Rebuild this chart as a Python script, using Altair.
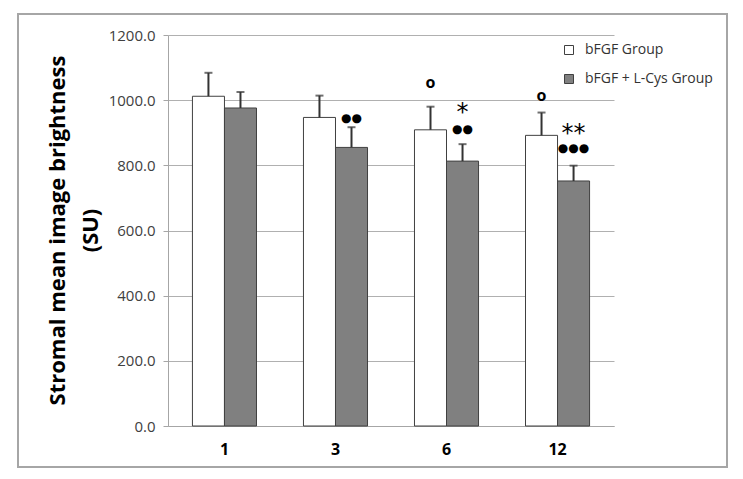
import altair as alt
import pandas as pd

weeks = ["1", "3", "6", "12"]
groups = ["bFGF Group", "bFGF + L-Cys Group"]
bfgf_mean = [1012, 947, 909, 892]
bfgf_upper = [1084, 1014, 980, 962]
lcys_mean = [976, 855, 813, 752]
lcys_upper = [1025, 917, 865, 799]

# significance marks
ring_week = ["6", "12"]
ring_y = [1053, 1013]
star_week = ["6", "12"]
star_y = [979, 915]
star_text = ["*", "**"]
dot_week = ["3", "6", "12"]
dot_y = [945, 911, 853]
dot_text = ["●●", "●●", "●●●"]

rows = []
for i, w in enumerate(weeks):
    rows.append({"week": w, "group": groups[0], "value": bfgf_mean[i], "upper": bfgf_upper[i]})
    rows.append({"week": w, "group": groups[1], "value": lcys_mean[i], "upper": lcys_upper[i]})
df = pd.DataFrame(rows)

rings = pd.DataFrame({"week": ring_week, "group": groups[0], "y": ring_y, "t": "o"})
stars = pd.DataFrame({"week": star_week, "group": groups[1], "y": star_y, "t": star_text})
dots = pd.DataFrame({"week": dot_week, "group": groups[1], "y": dot_y, "t": dot_text})

x = alt.X("week:N", sort=weeks, scale=alt.Scale(paddingInner=0.423, paddingOuter=0.22),
          axis=alt.Axis(title=None, labelFontSize=16, labelFontWeight="bold", labelColor="black",
                        labelAngle=0, domainColor="#a6a6a6", ticks=False, labelPadding=15,
                        labelFont="Open Sans", grid=False))
xo = alt.XOffset("group:N", sort=groups, scale=alt.Scale(paddingInner=0, paddingOuter=0))
yax = alt.Axis(values=[0, 200, 400, 600, 800, 1000, 1200], format=".1f",
               title=["Stromal mean image brightness", "(SU)"],
               titleAngle=270, titleX=-104, titleY=195, titleAlign="center",
               titleBaseline="alphabetic", titleFontSize=22, titleFontWeight="bold",
               titleColor="black", titleLineHeight=33, titleFont="Open Sans",
               labelFont="Open Sans", labelFontSize=15, labelColor="#404040",
               labelPadding=8, tickSize=5, tickColor="#a6a6a6", domainColor="#a6a6a6",
               gridColor="#b0b0b0", grid=True)
yscale = alt.Scale(domain=[0, 1200])

bars = alt.Chart(df).mark_bar(stroke="#404040", strokeWidth=1).encode(
    x=x, xOffset=xo,
    y=alt.Y("value:Q", scale=yscale, axis=yax),
    fill=alt.Fill("group:N", sort=groups,
                  scale=alt.Scale(domain=groups, range=["#ffffff", "#808080"]),
                  legend=alt.Legend(title=None, orient="none", legendX=394, legendY=8,
                                    symbolType="square", symbolSize=81,
                                    symbolStrokeColor="#404040", symbolStrokeWidth=1,
                                    labelFont="Open Sans", labelFontSize=14, labelColor="#333333",
                                    rowPadding=15, labelOffset=9)),
)

err = alt.Chart(df).mark_rule(color="#333333", strokeWidth=2).encode(
    x=x, xOffset=xo, y=alt.Y("value:Q", scale=yscale), y2="upper:Q")
caps = alt.Chart(df).mark_tick(color="#333333", size=8, thickness=2).encode(
    x=x, xOffset=xo, y=alt.Y("upper:Q", scale=yscale))

ring_m = alt.Chart(rings).mark_text(font="Open Sans", fontWeight="bold", fontSize=16,
                                    color="black", baseline="middle").encode(
    x=x, xOffset=xo, y=alt.Y("y:Q", scale=yscale), text="t:N")
star_m = alt.Chart(stars).mark_text(font="DejaVu Sans", fontSize=24, color="black",
                                    baseline="middle", dy=6).encode(
    x=x, xOffset=xo, y=alt.Y("y:Q", scale=yscale), text="t:N")
dot_m = alt.Chart(dots).mark_text(font="DejaVu Sans", fontSize=12, color="black",
                                  baseline="middle").encode(
    x=x, xOffset=xo, y=alt.Y("y:Q", scale=yscale), text="t:N")

border = alt.Chart(pd.DataFrame({"a": [0]})).mark_rect(
    fill="transparent", stroke="#a6a6a6", strokeWidth=2).encode(
    x=alt.value(-150), x2=alt.value(559), y=alt.value(-21), y2=alt.value(432))

chart = alt.layer(bars, err, caps, ring_m, star_m, dot_m, border).properties(
    width=446, height=391,
    autosize=alt.AutoSizeParams(type="none"),
    padding={"left": 160, "top": 27, "right": 121, "bottom": 45},
    background="white",
).configure_view(strokeWidth=0)

chart.save("out.html", embed_options={"renderer": "svg", "actions": False})
